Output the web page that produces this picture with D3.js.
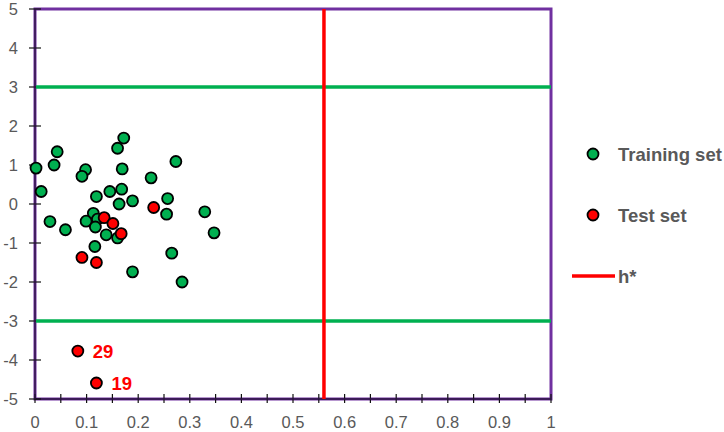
<!DOCTYPE html>
<html>
<meta charset="utf-8">
<head>
  <script src='https://d3js.org/d3.v7.min.js'></script>
  <style>
    body { margin:0; background:#fff; }
    text { font-family: 'Liberation Sans', Arial, sans-serif; }
  </style>
</head>
<body>
<script>
    // training points (x, y)
    var trainX = [0.002,0.012,0.043,0.037,0.029,0.059,0.098,0.091,0.119,0.145,0.168,0.160,0.172,0.169,0.163,0.189,
                  0.113,0.099,0.121,0.117,0.138,0.160,0.116,0.189,0.225,0.273,0.257,0.255,0.265,0.285,0.347,0.329]
    var trainY = [0.92,0.32,1.34,1.00,-0.45,-0.66,0.88,0.71,0.19,0.32,0.38,1.43,1.69,0.90,0.00,0.08,
                  -0.24,-0.44,-0.39,-0.59,-0.79,-0.87,-1.09,-1.74,0.67,1.09,0.14,-0.26,-1.26,-2.00,-0.74,-0.20]
    // test points
    var testX = [0.134,0.151,0.167,0.230,0.091,0.119,0.083,0.119]
    var testY = [-0.35,-0.50,-0.76,-0.09,-1.37,-1.50,-3.77,-4.59]
    var testLabels = ['','','','','','','29','19']
    var hStar = 0.56
    var limits = [3,-3]
    var xTicks = [0,0.1,0.2,0.3,0.4,0.5,0.6,0.7,0.8,0.9,1]
    var yTicks = [-5,-4,-3,-2,-1,0,1,2,3,4,5]

    var green = '#00B050', red = '#FF0000', purple = '#7030A0', grey = '#595959'

    var svg = d3.select('body').append('svg').attr('width',724).attr('height',432)

    var x = d3.scaleLinear().domain([0,1]).range([35,551])
    var y = d3.scaleLinear().domain([-5,5]).range([399,9])

    // plot frame
    svg.append('rect')
	.attr('x',x(0)).attr('y',y(5))
	.attr('width',x(1)-x(0)).attr('height',y(-5)-y(5))
	.attr('fill','none').attr('stroke',purple).attr('stroke-width',3)

    // axes (cross ticks)
    var xAxis = svg.append('g').attr('transform','translate(0,'+y(-5)+')')
    xAxis.selectAll('line.tk').data(d3.range(0,1.0001,0.05)).join('line')
	.attr('x1',d=>x(d)).attr('x2',d=>x(d)).attr('y1',-5).attr('y2',4)
	.attr('stroke','#111').attr('stroke-width',1.2)
    xAxis.append('line').attr('x1',x(0)).attr('x2',x(1)).attr('stroke','#2a1440').attr('stroke-width',1.3)
    xAxis.selectAll('text').data(xTicks).join('text')
	.attr('x',d=>x(d)).attr('y',29).attr('text-anchor','middle')
	.attr('fill',grey).style('font-size','16.5px')
	.text(d=>d3.format('')(d))

    var yAxis = svg.append('g').attr('transform','translate('+x(0)+',0)')
    yAxis.selectAll('line.tk').data(yTicks).join('line')
	.attr('x1',-6).attr('x2',6).attr('y1',d=>y(d)).attr('y2',d=>y(d))
	.attr('stroke','#111').attr('stroke-width',1.2)
    yAxis.append('line').attr('y1',y(-5)).attr('y2',y(5)).attr('stroke','#2a1440').attr('stroke-width',1.3)
    yAxis.selectAll('text').data(yTicks).join('text')
	.attr('x',-17).attr('y',d=>y(d)).attr('dy','0.36em').attr('text-anchor','end')
	.attr('fill',grey).style('font-size','16.5px')
	.text(d=>d)

    // limit lines
    svg.selectAll('line.lim').data(limits).join('line').attr('class','lim')
	.attr('x1',x(0)+1).attr('x2',x(1)).attr('y1',d=>y(d)).attr('y2',d=>y(d))
	.attr('stroke',green).attr('stroke-width',3.5)

    svg.append('line')
	.attr('x1',x(hStar)).attr('x2',x(hStar)).attr('y1',y(5)).attr('y2',y(-5))
	.attr('stroke',red).attr('stroke-width',3.5)

    // points
    var train = trainX.map((d,i)=>({x:d,y:trainY[i]}))
    var test = testX.map((d,i)=>({x:d,y:testY[i],label:testLabels[i]}))

    svg.append('g').selectAll('circle').data(train).join('circle')
	.attr('cx',d=>x(d.x)).attr('cy',d=>y(d.y)).attr('r',5.5)
	.attr('fill',green).attr('stroke','#000').attr('stroke-width',1.8)

    svg.append('g').selectAll('circle').data(test).join('circle')
	.attr('cx',d=>x(d.x)).attr('cy',d=>y(d.y)).attr('r',5.5)
	.attr('fill',red).attr('stroke','#000').attr('stroke-width',1.8)

    svg.append('g').selectAll('text').data(test.filter(d=>d.label)).join('text')
	.attr('x',d=>x(d.x)+15).attr('y',d=>y(d.y)).attr('dy','0.36em')
	.attr('fill',red).style('font-size','18.5px').style('font-weight','bold')
	.text(d=>d.label)

    // legend
    var leg = svg.append('g')
    leg.append('circle').attr('cx',593).attr('cy',154).attr('r',5.5)
	.attr('fill',green).attr('stroke','#000').attr('stroke-width',1.8)
    leg.append('circle').attr('cx',593).attr('cy',215).attr('r',5.5)
	.attr('fill',red).attr('stroke','#000').attr('stroke-width',1.8)
    leg.append('line').attr('x1',572).attr('x2',615).attr('y1',276).attr('y2',276)
	.attr('stroke',red).attr('stroke-width',3.5)
    leg.selectAll('text').data([['Training set',154],['Test set',215],['h*',276]]).join('text')
	.attr('x',618).attr('y',d=>d[1]).attr('dy','0.36em')
	.attr('fill',grey).style('font-size','18.5px').style('font-weight','bold')
	.text(d=>d[0])
</script>
</body>
</html>
